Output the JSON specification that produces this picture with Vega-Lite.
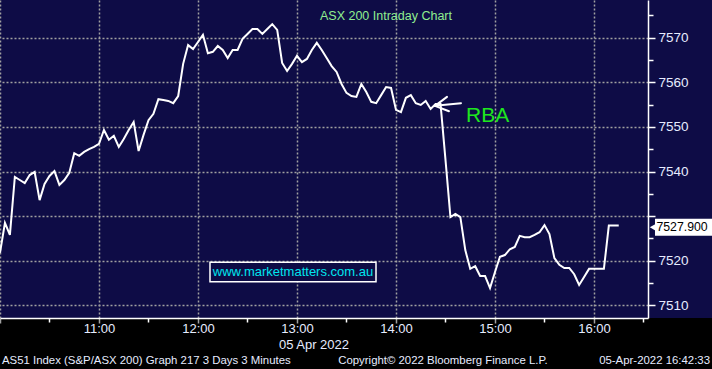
{
  "$schema": "https://vega.github.io/schema/vega-lite/v6.json",
  "width": 648,
  "height": 318,
  "autosize": "none",
  "padding": {"left": 0, "top": 0, "right": 64, "bottom": 51},
  "background": "#000000",
  "config": {"view": {"fill": "#0E0C46", "stroke": null}},
  "resolve": {"axis": {"x": "independent", "y": "independent"}},
  "layer": [
    {
      "data": {"values": [{"name": "strip"}]},
      "mark": {"type": "rect", "fill": "#0E0C46", "clip": false},
      "encoding": {
        "x": {"datum": {"year": 2022, "month": 4, "date": 5, "hours": 16, "minutes": 32, "seconds": 44}, "type": "temporal", "axis": null,
          "scale": {"domain": [{"year": 2022, "month": 4, "date": 5, "hours": 10}, {"year": 2022, "month": 4, "date": 5, "hours": 16, "minutes": 32, "seconds": 44}], "nice": false}},
        "x2": {"datum": {"year": 2022, "month": 4, "date": 5, "hours": 17, "minutes": 20}},
        "y": {"datum": 7578.4, "type": "quantitative",
          "scale": {"domain": [7507.2, 7578.4], "nice": false, "zero": false},
          "axis": {"orient": "right", "values": [7510, 7515, 7520, 7525, 7530, 7535, 7540, 7545, 7550, 7555, 7560, 7565, 7570, 7575],
            "labelExpr": "datum.value % 10 == 0 && datum.value != 7530 ? datum.label : ''",
            "format": "d",
            "tickSize": {"condition": {"test": "datum.value % 10 == 0", "value": 7}, "value": 5},
            "tickColor": "#ffffff", "tickWidth": 1.5,
            "domainColor": "#ffffff", "domainWidth": 1.5,
            "grid": false, "labelPadding": 3,
            "labelFont": "Liberation Sans", "labelFontSize": 13.5, "labelColor": "#E6ECFF",
            "title": null, "zindex": 1}},
        "y2": {"datum": 7507.2}
      }
    },
    {
      "data": {"values": [
        {"t": "2022-04-05T10:00", "v": 7521.8}, {"t": "2022-04-05T10:03", "v": 7528.5}, {"t": "2022-04-05T10:06", "v": 7525.8},
        {"t": "2022-04-05T10:09", "v": 7538.8}, {"t": "2022-04-05T10:12", "v": 7538.1}, {"t": "2022-04-05T10:15", "v": 7537.4},
        {"t": "2022-04-05T10:18", "v": 7539.2}, {"t": "2022-04-05T10:21", "v": 7539.9}, {"t": "2022-04-05T10:24", "v": 7533.6},
        {"t": "2022-04-05T10:27", "v": 7537.2}, {"t": "2022-04-05T10:30", "v": 7539.0}, {"t": "2022-04-05T10:33", "v": 7540.1},
        {"t": "2022-04-05T10:36", "v": 7537.0}, {"t": "2022-04-05T10:39", "v": 7538.1}, {"t": "2022-04-05T10:42", "v": 7539.7},
        {"t": "2022-04-05T10:45", "v": 7544.1}, {"t": "2022-04-05T10:48", "v": 7543.5}, {"t": "2022-04-05T10:51", "v": 7544.4},
        {"t": "2022-04-05T10:54", "v": 7545.0}, {"t": "2022-04-05T10:57", "v": 7545.5}, {"t": "2022-04-05T11:00", "v": 7546.2},
        {"t": "2022-04-05T11:03", "v": 7549.3}, {"t": "2022-04-05T11:06", "v": 7547.1}, {"t": "2022-04-05T11:09", "v": 7548.0},
        {"t": "2022-04-05T11:12", "v": 7545.5}, {"t": "2022-04-05T11:15", "v": 7547.3}, {"t": "2022-04-05T11:18", "v": 7549.3},
        {"t": "2022-04-05T11:21", "v": 7551.1}, {"t": "2022-04-05T11:24", "v": 7544.6}, {"t": "2022-04-05T11:27", "v": 7548.2},
        {"t": "2022-04-05T11:30", "v": 7551.5}, {"t": "2022-04-05T11:33", "v": 7552.9}, {"t": "2022-04-05T11:36", "v": 7556.2},
        {"t": "2022-04-05T11:39", "v": 7556.0}, {"t": "2022-04-05T11:42", "v": 7555.8}, {"t": "2022-04-05T11:45", "v": 7555.3},
        {"t": "2022-04-05T11:48", "v": 7556.9}, {"t": "2022-04-05T11:51", "v": 7564.1}, {"t": "2022-04-05T11:54", "v": 7568.3},
        {"t": "2022-04-05T11:57", "v": 7567.4}, {"t": "2022-04-05T12:00", "v": 7569.0}, {"t": "2022-04-05T12:03", "v": 7570.6},
        {"t": "2022-04-05T12:06", "v": 7566.5}, {"t": "2022-04-05T12:09", "v": 7566.8}, {"t": "2022-04-05T12:12", "v": 7568.1},
        {"t": "2022-04-05T12:15", "v": 7567.2}, {"t": "2022-04-05T12:18", "v": 7565.4}, {"t": "2022-04-05T12:21", "v": 7567.2},
        {"t": "2022-04-05T12:24", "v": 7567.2}, {"t": "2022-04-05T12:27", "v": 7569.7}, {"t": "2022-04-05T12:30", "v": 7570.8},
        {"t": "2022-04-05T12:33", "v": 7571.9}, {"t": "2022-04-05T12:36", "v": 7571.9}, {"t": "2022-04-05T12:39", "v": 7570.8},
        {"t": "2022-04-05T12:42", "v": 7571.9}, {"t": "2022-04-05T12:45", "v": 7573.0}, {"t": "2022-04-05T12:48", "v": 7571.7},
        {"t": "2022-04-05T12:51", "v": 7564.3}, {"t": "2022-04-05T12:54", "v": 7562.5}, {"t": "2022-04-05T12:57", "v": 7564.1},
        {"t": "2022-04-05T13:00", "v": 7565.9}, {"t": "2022-04-05T13:03", "v": 7564.5}, {"t": "2022-04-05T13:06", "v": 7565.2},
        {"t": "2022-04-05T13:09", "v": 7567.2}, {"t": "2022-04-05T13:12", "v": 7568.8}, {"t": "2022-04-05T13:15", "v": 7567.2},
        {"t": "2022-04-05T13:18", "v": 7565.4}, {"t": "2022-04-05T13:21", "v": 7563.6}, {"t": "2022-04-05T13:24", "v": 7562.3},
        {"t": "2022-04-05T13:27", "v": 7559.6}, {"t": "2022-04-05T13:30", "v": 7557.6}, {"t": "2022-04-05T13:33", "v": 7556.9},
        {"t": "2022-04-05T13:36", "v": 7556.7}, {"t": "2022-04-05T13:39", "v": 7559.6}, {"t": "2022-04-05T13:42", "v": 7557.8},
        {"t": "2022-04-05T13:45", "v": 7555.6}, {"t": "2022-04-05T13:48", "v": 7555.3}, {"t": "2022-04-05T13:51", "v": 7557.1},
        {"t": "2022-04-05T13:54", "v": 7558.9}, {"t": "2022-04-05T13:57", "v": 7558.7}, {"t": "2022-04-05T14:00", "v": 7553.8},
        {"t": "2022-04-05T14:03", "v": 7553.3}, {"t": "2022-04-05T14:06", "v": 7556.5}, {"t": "2022-04-05T14:09", "v": 7557.1},
        {"t": "2022-04-05T14:12", "v": 7555.3}, {"t": "2022-04-05T14:15", "v": 7554.9}, {"t": "2022-04-05T14:18", "v": 7555.8},
        {"t": "2022-04-05T14:21", "v": 7554.0}, {"t": "2022-04-05T14:24", "v": 7555.1}, {"t": "2022-04-05T14:27", "v": 7555.1},
        {"t": "2022-04-05T14:30", "v": 7542.6}, {"t": "2022-04-05T14:33", "v": 7529.8}, {"t": "2022-04-05T14:36", "v": 7530.5},
        {"t": "2022-04-05T14:39", "v": 7529.8}, {"t": "2022-04-05T14:42", "v": 7522.4}, {"t": "2022-04-05T14:45", "v": 7518.2},
        {"t": "2022-04-05T14:48", "v": 7518.8}, {"t": "2022-04-05T14:51", "v": 7516.6}, {"t": "2022-04-05T14:54", "v": 7516.6},
        {"t": "2022-04-05T14:57", "v": 7513.9}, {"t": "2022-04-05T15:00", "v": 7517.5}, {"t": "2022-04-05T15:03", "v": 7520.9},
        {"t": "2022-04-05T15:06", "v": 7521.3}, {"t": "2022-04-05T15:09", "v": 7522.6}, {"t": "2022-04-05T15:12", "v": 7523.1},
        {"t": "2022-04-05T15:15", "v": 7525.6}, {"t": "2022-04-05T15:18", "v": 7525.3}, {"t": "2022-04-05T15:21", "v": 7525.3},
        {"t": "2022-04-05T15:24", "v": 7525.8}, {"t": "2022-04-05T15:27", "v": 7526.4}, {"t": "2022-04-05T15:30", "v": 7528.0},
        {"t": "2022-04-05T15:33", "v": 7526.0}, {"t": "2022-04-05T15:36", "v": 7520.6}, {"t": "2022-04-05T15:39", "v": 7519.1},
        {"t": "2022-04-05T15:42", "v": 7518.4}, {"t": "2022-04-05T15:45", "v": 7518.4}, {"t": "2022-04-05T15:48", "v": 7517.0},
        {"t": "2022-04-05T15:51", "v": 7514.6}, {"t": "2022-04-05T15:54", "v": 7516.4}, {"t": "2022-04-05T15:57", "v": 7518.2},
        {"t": "2022-04-05T16:00", "v": 7518.2}, {"t": "2022-04-05T16:03", "v": 7518.2}, {"t": "2022-04-05T16:06", "v": 7518.2},
        {"t": "2022-04-05T16:09", "v": 7527.9}, {"t": "2022-04-05T16:12", "v": 7527.9}, {"t": "2022-04-05T16:15", "v": 7527.9}
      ]},
      "mark": {"type": "line", "color": "#ffffff", "strokeWidth": 2, "clip": true},
      "encoding": {
        "x": {"field": "t", "type": "temporal",
          "scale": {"domain": [{"year": 2022, "month": 4, "date": 5, "hours": 10}, {"year": 2022, "month": 4, "date": 5, "hours": 16, "minutes": 32, "seconds": 44}], "nice": false},
          "axis": {
            "values": [
              {"year": 2022, "month": 4, "date": 5, "hours": 10}, {"year": 2022, "month": 4, "date": 5, "hours": 10, "minutes": 30},
              {"year": 2022, "month": 4, "date": 5, "hours": 11}, {"year": 2022, "month": 4, "date": 5, "hours": 11, "minutes": 30},
              {"year": 2022, "month": 4, "date": 5, "hours": 12}, {"year": 2022, "month": 4, "date": 5, "hours": 12, "minutes": 30},
              {"year": 2022, "month": 4, "date": 5, "hours": 13}, {"year": 2022, "month": 4, "date": 5, "hours": 13, "minutes": 30},
              {"year": 2022, "month": 4, "date": 5, "hours": 14}, {"year": 2022, "month": 4, "date": 5, "hours": 14, "minutes": 30},
              {"year": 2022, "month": 4, "date": 5, "hours": 15}, {"year": 2022, "month": 4, "date": 5, "hours": 15, "minutes": 30},
              {"year": 2022, "month": 4, "date": 5, "hours": 16}, {"year": 2022, "month": 4, "date": 5, "hours": 16, "minutes": 30}
            ],
            "format": "%H:%M",
            "labelExpr": "minutes(datum.value) == 0 && hours(datum.value) > 10 ? datum.label : ''",
            "grid": true,
            "gridOpacity": {"condition": {"test": "minutes(datum.value) == 0", "value": 1}, "value": 0},
            "gridColor": "#A0A0A0", "gridDash": [2, 2], "gridWidth": 1.5,
            "tickColor": {"condition": {"test": "minutes(datum.value) == 0", "value": "#A0A0A0"}, "value": "#ffffff"},
            "tickSize": {"condition": {"test": "minutes(datum.value) == 0", "value": 5}, "value": 4},
            "tickWidth": 1.5,
            "domainColor": "#ffffff", "domainWidth": 1.5,
            "labelColor": "#E6ECFF", "labelFont": "Liberation Sans", "labelFontSize": 13, "labelPadding": -1,
            "labelFlush": false, "labelOverlap": false,
            "title": null, "zindex": 0
          }},
        "y": {"field": "v", "type": "quantitative",
          "scale": {"domain": [7507.2, 7578.4], "nice": false, "zero": false},
          "axis": {"orient": "right", "values": [7510, 7520, 7530, 7540, 7550, 7560, 7570],
            "grid": true, "gridColor": "#A0A0A0", "gridDash": [2, 2], "gridWidth": 1.5,
            "labels": false, "ticks": false, "domain": false, "title": null, "zindex": 0}}
      }
    },
    {
      "data": {"values": [{"label": "ASX 200 Intraday Chart"}]},
      "mark": {"type": "text", "align": "left", "baseline": "middle", "font": "Liberation Sans", "fontSize": 12.5, "color": "#90EE90"},
      "encoding": {
        "text": {"field": "label"},
        "x": {"datum": {"year": 2022, "month": 4, "date": 5, "hours": 13, "minutes": 13, "seconds": 56}, "type": "temporal", "axis": null},
        "y": {"datum": 7574.8, "type": "quantitative", "axis": null}
      }
    },
    {
      "data": {"values": [{"label": "RBA"}]},
      "mark": {"type": "text", "align": "left", "baseline": "alphabetic", "font": "Liberation Sans", "fontSize": 21, "color": "#1EE61E"},
      "encoding": {
        "text": {"field": "label"},
        "x": {"datum": {"year": 2022, "month": 4, "date": 5, "hours": 14, "minutes": 42, "seconds": 25}, "type": "temporal", "axis": null},
        "y": {"datum": 7551.1, "type": "quantitative", "axis": null}
      }
    },
    {
      "data": {"values": [
        {"part": "shaft", "x1": "2022-04-05T14:39:24", "y1": 7555.3, "x2": "2022-04-05T14:23:38", "y2": 7554.7},
        {"part": "head-upper", "x1": "2022-04-05T14:30:55", "y1": 7556.7, "x2": "2022-04-05T14:23:38", "y2": 7554.7},
        {"part": "head-lower", "x1": "2022-04-05T14:32:07", "y1": 7553.5, "x2": "2022-04-05T14:23:38", "y2": 7554.7}
      ]},
      "mark": {"type": "rule", "color": "#ffffff", "strokeWidth": 2, "strokeCap": "round"},
      "encoding": {
        "x": {"field": "x1", "type": "temporal", "axis": null},
        "x2": {"field": "x2"},
        "y": {"field": "y1", "type": "quantitative", "axis": null},
        "y2": {"field": "y2"}
      }
    },
    {
      "data": {"values": [{"name": "box"}]},
      "mark": {"type": "rect", "fill": "#0E0C46", "stroke": "#ffffff", "strokeWidth": 1.5},
      "encoding": {
        "x": {"datum": {"year": 2022, "month": 4, "date": 5, "hours": 12, "minutes": 7, "seconds": 16}, "type": "temporal", "axis": null},
        "x2": {"datum": {"year": 2022, "month": 4, "date": 5, "hours": 13, "minutes": 47, "seconds": 53}},
        "y": {"datum": 7519.7, "type": "quantitative", "axis": null},
        "y2": {"datum": 7515.3}
      }
    },
    {
      "data": {"values": [{"label": "www.marketmatters.com.au"}]},
      "mark": {"type": "text", "align": "center", "baseline": "middle", "font": "Liberation Sans", "fontSize": 13, "color": "#00E5EE"},
      "encoding": {
        "text": {"field": "label"},
        "x": {"datum": {"year": 2022, "month": 4, "date": 5, "hours": 12, "minutes": 57, "seconds": 35}, "type": "temporal", "axis": null},
        "y": {"datum": 7517.5, "type": "quantitative", "axis": null}
      }
    },
    {
      "data": {"values": [{"name": "lastbox"}]},
      "mark": {"type": "rect", "fill": "#ffffff", "clip": false},
      "encoding": {
        "x": {"datum": {"year": 2022, "month": 4, "date": 5, "hours": 16, "minutes": 36, "seconds": 58}, "type": "temporal", "axis": null},
        "x2": {"datum": {"year": 2022, "month": 4, "date": 5, "hours": 17, "minutes": 20}},
        "y": {"datum": 7529.4, "type": "quantitative", "axis": null},
        "y2": {"datum": 7525.6}
      }
    },
    {
      "data": {"values": [{"name": "pointer"}]},
      "mark": {"type": "point", "shape": "triangle-left", "filled": true, "fill": "#ffffff", "opacity": 1, "size": 70, "clip": false},
      "encoding": {
        "x": {"datum": {"year": 2022, "month": 4, "date": 5, "hours": 16, "minutes": 36, "seconds": 0}, "type": "temporal", "axis": null},
        "y": {"datum": 7527.5, "type": "quantitative", "axis": null}
      }
    },
    {
      "data": {"values": [{"label": "7527.900"}]},
      "mark": {"type": "text", "align": "left", "baseline": "middle", "font": "Liberation Sans", "fontSize": 12.3, "color": "#000000", "clip": false},
      "encoding": {
        "text": {"field": "label"},
        "x": {"datum": {"year": 2022, "month": 4, "date": 5, "hours": 16, "minutes": 37, "seconds": 50}, "type": "temporal", "axis": null},
        "y": {"datum": 7527.6, "type": "quantitative", "axis": null}
      }
    },
    {
      "data": {"values": [
        {"label": "05 Apr 2022", "tx": "2022-04-05T13:10:18", "ty": 7501.1, "pos": "center", "fs": 13},
        {"label": "AS51 Index (S&P/ASX 200) Graph 217 3 Days 3 Minutes", "tx": "2022-04-05T10:01:13", "ty": 7497.6, "pos": "left", "fs": 11.4},
        {"label": "Copyright© 2022 Bloomberg Finance L.P.", "tx": "2022-04-05T14:28:29", "ty": 7497.6, "pos": "center", "fs": 11.4},
        {"label": "05-Apr-2022 16:42:33", "tx": "2022-04-05T17:10:18", "ty": 7497.6, "pos": "right", "fs": 11.4}
      ]},
      "mark": {"type": "text", "baseline": "middle", "font": "Liberation Sans", "color": "#E6ECFF", "clip": false,
        "align": {"expr": "datum.pos"}, "fontSize": {"expr": "datum.fs"}},
      "encoding": {
        "text": {"field": "label"},
        "x": {"field": "tx", "type": "temporal", "axis": null},
        "y": {"field": "ty", "type": "quantitative", "axis": null}
      }
    }
  ]
}
